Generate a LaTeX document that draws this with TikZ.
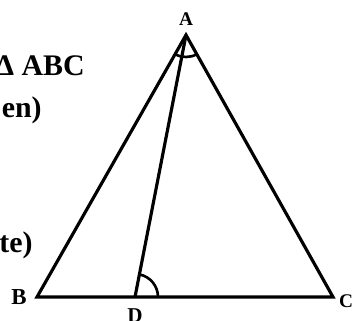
\documentclass[tikz,border=0pt]{standalone}
\usepackage{fontspec}
\setmainfont{Liberation Serif}
\usepackage{tikz}
\usetikzlibrary{angles,positioning}
\tikzset{
  side/.style={draw=black, line width=1.8pt, line join=miter},
  vlabel/.style={font=\fontsize{11}{12}\selectfont\bfseries, inner sep=0pt},
  note/.style={font=\fontsize{17}{19}\selectfont\bfseries, inner sep=0pt, anchor=east},
  anglemark/.style={draw=black, line width=1.5pt, angle radius=0.44cm},
}

\begin{document}
\begin{tikzpicture}
        \useasboundingbox (0,0) rectangle (7.2,6.4);
        % vertices
        \coordinate (A) at (3.72,5.70);
        \coordinate (B) at (0.74,0.46);
        \coordinate (C) at (6.66,0.46);
        \coordinate (D) at (2.70,0.46);
        % triangle and cevian
        \draw[side] (A) -- (B) -- (C) -- cycle;
        \draw[side] (A) -- (D);
        \pic[anglemark] {angle = B--A--C};
        \pic[anglemark, angle radius=0.46cm] {angle = C--D--A};
        % vertex labels
        \node[vlabel] (lA) at (3.72,6.02) {A};
        \node[vlabel, font=\fontsize{13}{14}\selectfont\bfseries] (lB) at (0.38,0.46) {B};
        \node[vlabel] (lC) at (6.92,0.38) {C};
        \node[vlabel, font=\fontsize{12}{13}\selectfont\bfseries] (lD) at (2.70,0.08) {D};
        % text at the left margin
        \node[note] (given) at (1.70,5.08) {Δ ABC};
        \node[note] (gvn) at (0.84,4.20) {en)};
        \node[note] (cns) at (0.66,1.50) {te)};
      \end{tikzpicture}
\end{document}
